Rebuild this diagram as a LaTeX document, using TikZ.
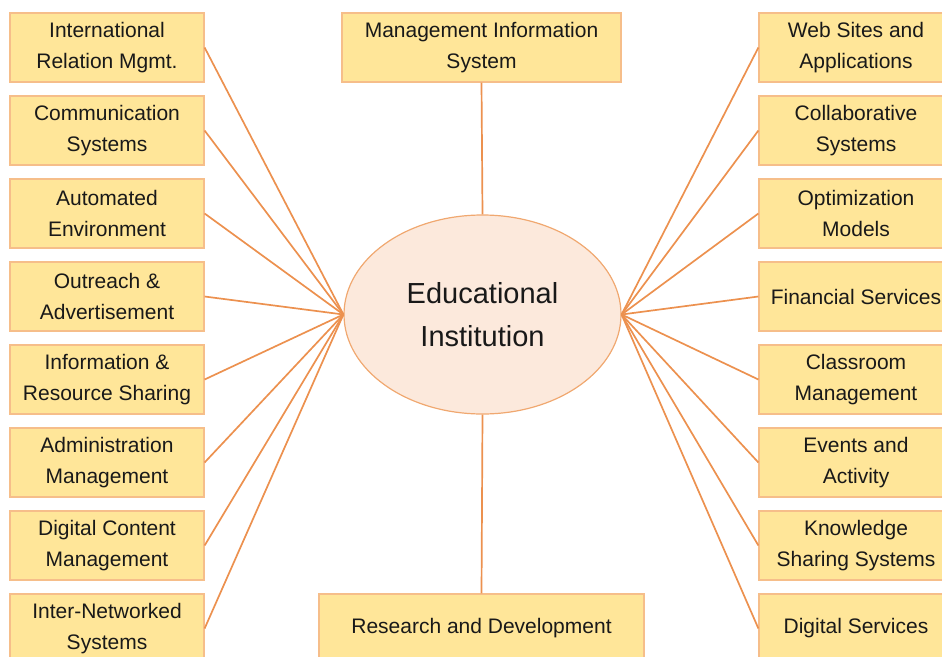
\documentclass[tikz,border=0pt]{standalone}
\usepackage{fontspec}
\setmainfont{Liberation Sans}
\usetikzlibrary{shapes.geometric}
\definecolor{boxfill}{HTML}{FFE699}
\definecolor{boxline}{HTML}{F6BE8A}
\definecolor{linkc}{HTML}{EC914F}
\definecolor{ellfill}{HTML}{FCE9DC}
\definecolor{ellline}{HTML}{F0A870}
\tikzset{
  topic/.style={draw=boxline, fill=boxfill, line width=1.2pt, rectangle,
    minimum width=194pt, minimum height=69pt, inner sep=0pt, align=center,
    font=\fontsize{21}{31}\selectfont, text=black!90},
  hub/.style={draw=ellline, fill=ellfill, line width=1.2pt, ellipse,
    minimum width=277pt, minimum height=199pt, inner sep=0pt, align=center,
    font=\fontsize{29}{43}\selectfont, text=black!90},
  link/.style={draw=linkc, line width=1.7pt}
}
\begin{document}
\begin{tikzpicture}[x=1pt,y=-1pt]
\useasboundingbox (0,0) rectangle (942,656);
\clip (0,0) rectangle (942,656);
\node[hub] (c) at (482.5,314.5) {Educational\\Institution};
\node[topic, minimum width=279pt] (top) at (481.5,47.5) {Management Information\\System};
\node[topic, minimum width=325pt] (bot) at (481.5,628.5) {Research and Development};
% left
\node[topic] (l1) at (107,47.5) {International\\Relation Mgmt.};
\node[topic] (l2) at (107,130.5) {Communication\\Systems};
\node[topic] (l3) at (107,213.5) {Automated\\Environment};
\node[topic] (l4) at (107,296.5) {Outreach \&\\Advertisement};
\node[topic] (l5) at (107,379.5) {Information \&\\Resource Sharing};
\node[topic] (l6) at (107,462.5) {Administration\\Management};
\node[topic] (l7) at (107,545.5) {Digital Content\\Management};
\node[topic] (l8) at (107,628.5) {Inter-Networked\\Systems};
% right
\node[topic] (r1) at (856,47.5) {Web Sites and\\Applications};
\node[topic] (r2) at (856,130.5) {Collaborative\\Systems};
\node[topic] (r3) at (856,213.5) {Optimization\\Models};
\node[topic] (r4) at (856,296.5) {Financial Services};
\node[topic] (r5) at (856,379.5) {Classroom\\Management};
\node[topic] (r6) at (856,462.5) {Events and\\Activity};
\node[topic] (r7) at (856,545.5) {Knowledge\\Sharing Systems};
\node[topic] (r8) at (856,628.5) {Digital Services};
% links
\draw[link] (top.south) -- (c.north);
\draw[link] (c.south) -- (bot.north);
\foreach \i in {1,...,8} {
  \draw[link] (l\i.east) -- (c.west);
  \draw[link] (r\i.west) -- (c.east);
}
\end{tikzpicture}
\end{document}
